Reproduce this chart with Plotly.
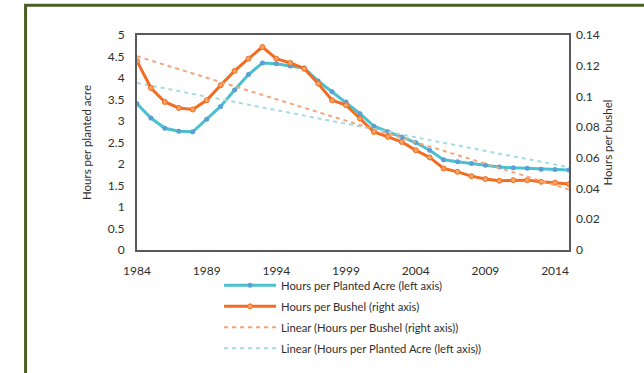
import numpy as np
import plotly.graph_objects as go

# Years covered by the series
years = list(range(1984, 2016))

# Labour hours per planted acre (left axis)
hours_per_acre = [3.40, 3.07, 2.83, 2.76, 2.75, 3.04, 3.34, 3.72, 4.08, 4.35,
                  4.33, 4.28, 4.23, 3.93, 3.68, 3.44, 3.17, 2.88, 2.75, 2.63,
                  2.50, 2.32, 2.10, 2.05, 2.01, 1.97, 1.93, 1.91, 1.90, 1.88,
                  1.87, 1.86]

# Labour hours per bushel (right axis)
hours_per_bushel = [0.1230, 0.1055, 0.0964, 0.0925, 0.0915, 0.0975, 0.1073, 0.1166,
                    0.1246, 0.1322, 0.1246, 0.1218, 0.1181, 0.1084, 0.0975, 0.0943,
                    0.0856, 0.0769, 0.0737, 0.0704, 0.0650, 0.0603, 0.0531, 0.0509,
                    0.0481, 0.0462, 0.0451, 0.0455, 0.0455, 0.0444, 0.0438, 0.0429]

x_ticks = [1984, 1989, 1994, 1999, 2004, 2009, 2014]

# Least-squares linear trends
yrs = np.array(years, dtype=float)
acre_fit = np.polyval(np.polyfit(yrs, hours_per_acre, 1), yrs)
bushel_fit = np.polyval(np.polyfit(yrs, hours_per_bushel, 1), yrs)

TEAL = "#4BC0CE"
TEAL_MK = "#5A9FD6"
ORANGE = "#F26C22"
ORANGE_MK = "#F8A35F"
FONT = "Lato"
TXT = "#2E2E2E"

fig = go.Figure()
fig.add_trace(go.Scatter(
    x=years, y=hours_per_acre, name="Hours per Planted Acre (left axis)",
    legendgroup="a", mode="lines+markers", line=dict(color=TEAL, width=3),
    marker=dict(size=5, color=TEAL_MK, line=dict(width=0)), yaxis="y"))
fig.add_trace(go.Scatter(
    x=years, y=hours_per_bushel, name="Hours per Bushel (right axis)",
    legendgroup="b", mode="lines+markers", line=dict(color=ORANGE, width=3),
    marker=dict(size=5, color=ORANGE_MK, line=dict(width=1, color=ORANGE)), yaxis="y2"))
fig.add_trace(go.Scatter(
    x=years, y=bushel_fit, name="Linear (Hours per Bushel (right axis))",
    legendgroup="c", mode="lines", line=dict(color="#F5A477", width=2, dash="4px,4px"),
    yaxis="y2"))
fig.add_trace(go.Scatter(
    x=years, y=acre_fit, name="Linear (Hours per Planted Acre (left axis))",
    legendgroup="d", mode="lines", line=dict(color="#A3DCE3", width=2, dash="4px,4px"),
    yaxis="y"))

tick_font = dict(family=FONT, size=12, color=TXT)
title_font = dict(family=FONT, size=11.5, color=TXT)

fig.update_layout(
    width=644, height=373,
    margin=dict(l=137, r=75, t=35, b=123, autoexpand=False),
    paper_bgcolor="white", plot_bgcolor="white",
    font=dict(family=FONT, size=12, color=TXT),
    xaxis=dict(range=[1984, 2015], tickvals=x_ticks, showgrid=False, zeroline=False,
               showline=True, mirror=True, linecolor="#595959", linewidth=2,
               ticks="", tickfont=tick_font, ticklabelstandoff=9),
    yaxis=dict(range=[0, 5], dtick=0.5, showgrid=False, zeroline=False,
               showline=True, mirror=True, linecolor="#595959", linewidth=2,
               ticks="", tickfont=tick_font, ticklabelstandoff=8,
               title=dict(text="Hours per planted acre", font=title_font, standoff=14)),
    yaxis2=dict(range=[0, 0.14], dtick=0.02, overlaying="y", side="right",
                showgrid=False, zeroline=False, showline=False, ticks="",
                tickfont=tick_font, ticklabelstandoff=6,
                title=dict(text="Hours per bushel", font=title_font, standoff=5)),
    legend=dict(x=0.19, y=-0.097, xanchor="left", yanchor="top", orientation="v",
                font=dict(family=FONT, size=11.25, color=TXT),
                traceorder="grouped", tracegroupgap=2,
                itemwidth=52, bgcolor="rgba(0,0,0,0)"),
    showlegend=True,
    shapes=[dict(type="rect", xref="paper", yref="paper",
                 x0=-0.258, y0=-1.0, x1=2.0, y1=1.138,
                 line=dict(color="#4B5F24", width=3), fillcolor="rgba(0,0,0,0)",
                 layer="below")],
)

fig.write_html("out.html")
